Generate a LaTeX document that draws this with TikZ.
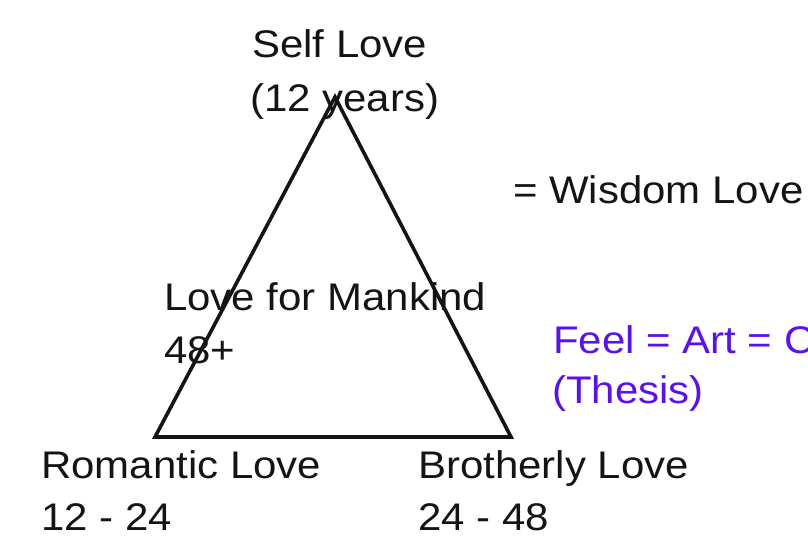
\documentclass[tikz,border=0pt]{standalone}
\usepackage{fontspec}
\setmainfont{Liberation Sans}[FakeStretch=1.09]
\definecolor{thesis}{RGB}{88,16,245}
\definecolor{ink}{RGB}{20,20,20}
\begin{document}
\begin{tikzpicture}[x=1pt,y=-1pt,
  lbl/.style={anchor=base west,inner sep=0pt,font=\fontsize{38.5}{46}\selectfont,text=ink},
  tri/.style={line width=3.6pt,draw=ink,line join=miter}]
\useasboundingbox (0,0) rectangle (808,539);
\clip (0,0) rectangle (808,539);
\coordinate (apex) at (335,97);
\coordinate (bl) at (155,437);
\coordinate (br) at (511,437);
\node[lbl] (self1) at (252,57) {Self Love};
\node[lbl] (self2) at (250,111) {(12 years)};
\node[lbl] (wis) at (513,203) {= Wisdom Love};
\node[lbl] (man1) at (164,310) {Love for Mankind};
\node[lbl] (man2) at (164,363) {48+};
\node[lbl,text=thesis] (feel1) at (553,353) {Feel = Art = Counsel};
\node[lbl,text=thesis] (feel2) at (552,403) {(Thesis)};
\node[lbl] (rom1) at (41,478) {Romantic Love};
\node[lbl] (rom2) at (41,530) {12 - 24};
\node[lbl] (bro1) at (418,478) {Brotherly Love};
\node[lbl] (bro2) at (418,530) {24 - 48};
\draw[tri] (apex) -- (br) -- (bl) -- cycle;
\end{tikzpicture}
\end{document}
